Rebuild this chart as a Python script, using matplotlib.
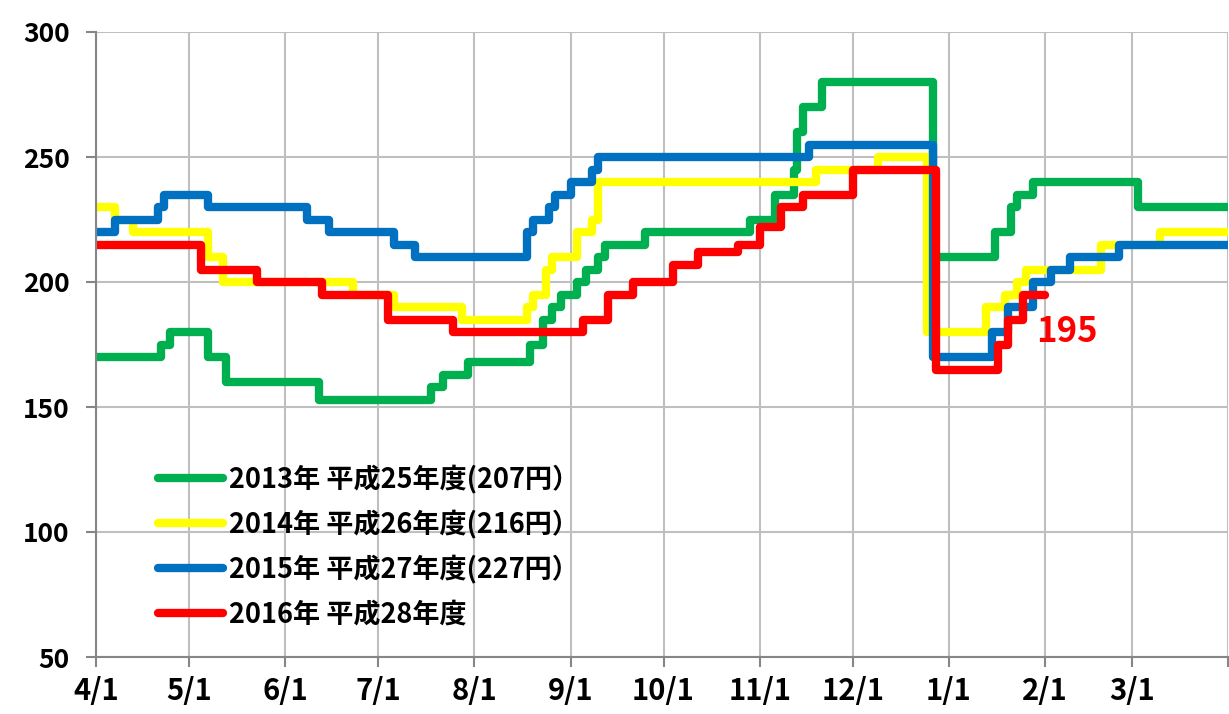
import matplotlib
matplotlib.use("Agg")
import matplotlib.pyplot as plt
import numpy as np

plt.rcParams['font.family'] = ['Noto Sans CJK JP', 'DejaVu Sans']

# 4/1 を 0 日目とした経過日数と、その日からの価格
month_labels = ['4/1', '5/1', '6/1', '7/1', '8/1', '9/1', '10/1', '11/1', '12/1', '1/1', '2/1', '3/1', '']
month_days = [0, 30, 61, 91, 122, 153, 183, 214, 244, 275, 306, 334, 365]

days_2013 = [0, 21, 24, 36, 42, 72, 108, 112, 120, 140, 144, 147, 150, 155, 158, 162, 164, 177,
             211, 219, 225, 226, 228, 234, 270, 290, 295, 297, 302, 336, 365]
vals_2013 = [170, 175, 180, 170, 160, 153, 158, 163, 168, 175, 185, 190, 195, 200, 205, 210, 215, 220,
             225, 235, 245, 260, 270, 280, 210, 220, 230, 235, 240, 230, 230]

days_2014 = [0, 6, 12, 36, 41, 83, 96, 118, 139, 141, 145, 147, 155, 160, 162, 232, 252,
             268, 287, 293, 297, 300, 324, 343, 365]
vals_2014 = [230, 225, 220, 210, 200, 195, 190, 185, 190, 195, 205, 210, 220, 225, 240, 245, 250,
             180, 190, 195, 200, 205, 215, 220, 220]

days_2015 = [0, 6, 20, 22, 36, 68, 75, 96, 103, 139, 141, 146, 148, 153, 160, 162, 230,
             270, 289, 294, 302, 308, 314, 330, 365]
vals_2015 = [220, 225, 230, 235, 230, 225, 220, 215, 210, 220, 225, 230, 235, 240, 245, 250, 255,
             170, 180, 190, 200, 205, 210, 215, 215]

days_2016 = [0, 34, 52, 73, 94, 115, 157, 165, 173, 186, 194, 207, 214, 221, 228, 244,
             271, 291, 294, 299, 306]
vals_2016 = [215, 205, 200, 195, 185, 180, 185, 195, 200, 207, 212, 215, 222, 230, 235, 245,
             165, 175, 185, 195, 195]

series = [
    ('2013年 平成25年度(207円）', days_2013, vals_2013, '#00B050'),
    ('2014年 平成26年度(216円）', days_2014, vals_2014, '#FFFF00'),
    ('2015年 平成27年度(227円）', days_2015, vals_2015, '#0070C0'),
    ('2016年 平成28年度', days_2016, vals_2016, '#FF0000'),
]

fig = plt.figure(figsize=(12.29, 7.14), dpi=100)
ax = fig.add_axes([96/1229, 1 - 657/714, 1132/1229, 625/714])

for label, d, v, c in series:
    ax.plot(d, v, drawstyle='steps-post', color=c, lw=6, label=label,
            solid_capstyle='round', solid_joinstyle='round')

# 最新値のラベル
ax.text(days_2016[-1] - 3, vals_2016[-1] - 15, str(vals_2016[-1]), color='#FF0000',
        fontsize=25, fontweight='bold', ha='left', va='center')

ax.set_xlim(0, 365)
ax.set_ylim(50, 300)
ax.set_xticks(month_days)
ax.set_xticklabels(month_labels)
ax.set_yticks(np.arange(50, 301, 50))
ax.grid(True, color='#BFBFBF', lw=1.5)
ax.set_axisbelow(True)

for s in ['top', 'right']:
    ax.spines[s].set_visible(False)
for s in ['left', 'bottom']:
    ax.spines[s].set_color('#868686')
    ax.spines[s].set_linewidth(1.5)

ax.tick_params(axis='both', colors='#868686', width=1.5, length=7, labelcolor='black')
ax.tick_params(axis='y', pad=12, labelsize=19)
ax.tick_params(axis='x', pad=7, labelsize=21)
for t in ax.get_xticklabels() + ax.get_yticklabels():
    t.set_fontweight('bold')

ax.legend(loc='upper left', bbox_to_anchor=(0.043, 0.33), frameon=False,
          handlelength=2.4, handletextpad=0.2, labelspacing=0.6,
          borderpad=0, prop={'weight': 'bold', 'size': 19.5})

fig.savefig('out.png', dpi=100)
